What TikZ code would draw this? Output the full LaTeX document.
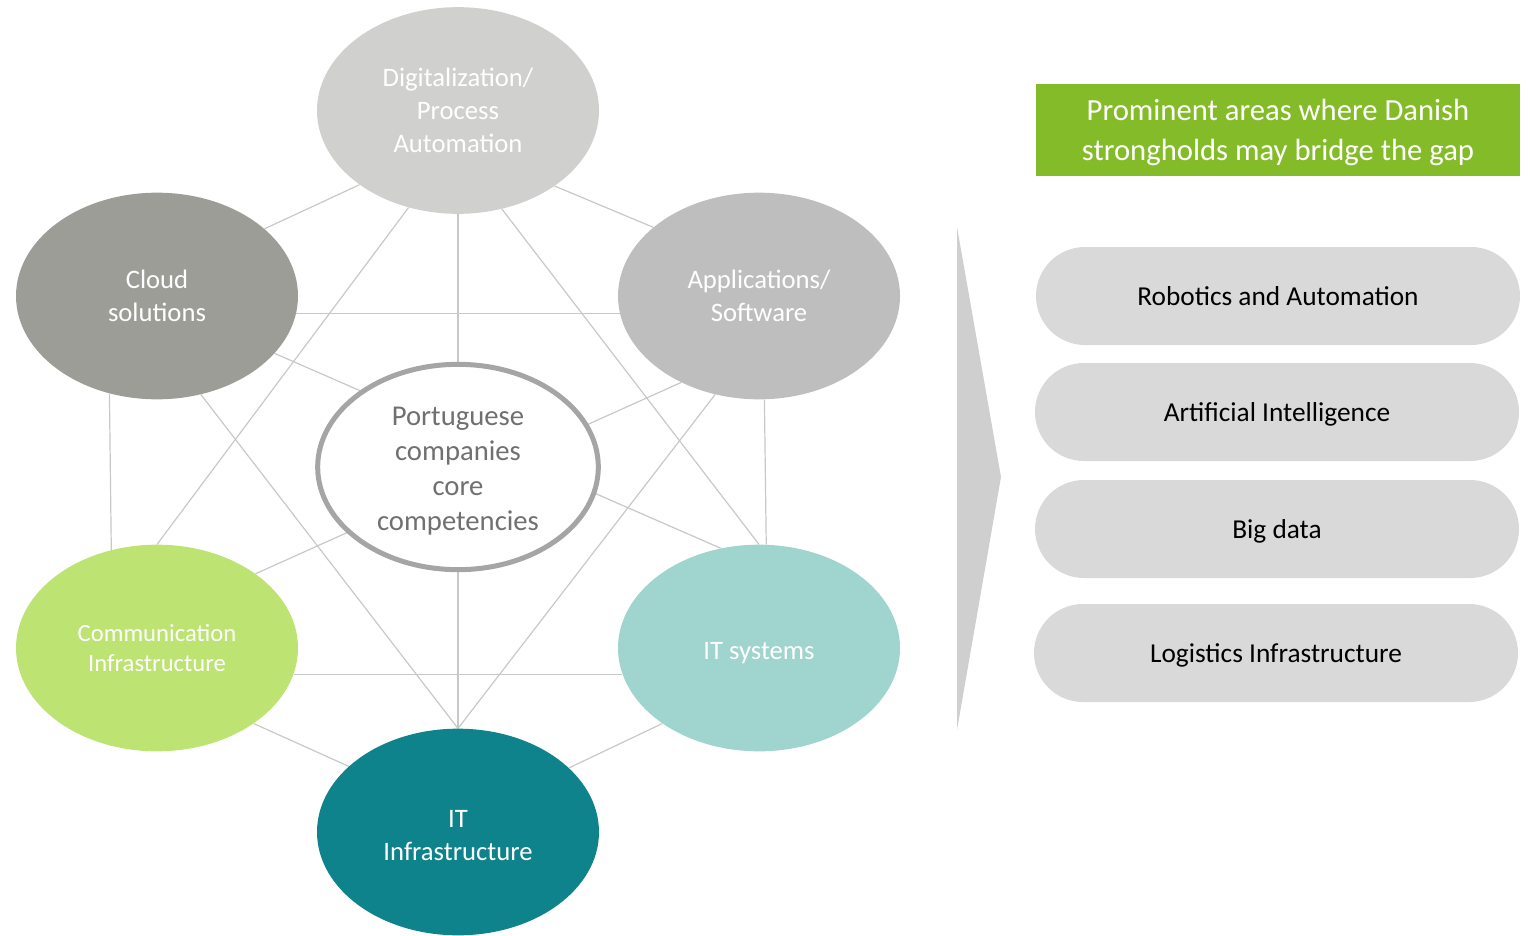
\documentclass[tikz,border=0pt]{standalone}
\usepackage{fontspec}
\setmainfont{Carlito}
\usetikzlibrary{positioning,shapes.geometric,backgrounds}

\definecolor{digitgray}{RGB}{208,208,206}
\definecolor{cloudgray}{RGB}{157,157,152}
\definecolor{appsgray}{RGB}{190,190,190}
\definecolor{commgreen}{RGB}{189,227,115}
\definecolor{itsysteal}{RGB}{159,212,207}
\definecolor{infrateal}{RGB}{14,131,140}
\definecolor{corering}{RGB}{165,165,165}
\definecolor{coretext}{RGB}{112,112,112}
\definecolor{linkgray}{RGB}{200,200,200}
\definecolor{chevgray}{RGB}{207,207,207}
\definecolor{headgreen}{RGB}{132,188,41}
\definecolor{pillgray}{RGB}{217,217,217}

\begin{document}
\begin{tikzpicture}[
  x=0.75pt, y=-0.75pt,
  area/.style={ellipse, inner sep=0pt, minimum width=211.5pt, minimum height=155pt,
    align=center, text=white, font=\fontsize{20}{24.8}\selectfont},
  core/.style={ellipse, inner sep=0pt, minimum width=210.5pt, minimum height=154pt,
    draw=corering, line width=3.75pt, fill=white, align=center, text=coretext,
    text height=95.4pt, text depth=0pt, font=\fontsize{21.5}{26.2}\selectfont},
  link/.style={draw=linkgray, line width=0.9pt},
  pill/.style={rectangle, rounded corners=36.7pt, fill=pillgray, minimum width=363pt,
    minimum height=73.5pt, text depth=0pt, font=\fontsize{20.5}{24}\selectfont},
  header/.style={rectangle, fill=headgreen, minimum width=363pt, minimum height=69pt,
    align=center, text=white, text depth=0pt, font=\fontsize{23}{30}\selectfont}
]
\useasboundingbox (0,0) rectangle (1530,935);

% Outer areas
\node[area, fill=digitgray] (digit) at (458,110.5) {Digitalization/\\Process\\Automation};
\node[area, fill=cloudgray] (cloud) at (157,296) {Cloud\\solutions};
\node[area, fill=appsgray] (apps) at (759,296) {Applications/\\Software};
\node[area, fill=commgreen, font=\fontsize{18.5}{22.5}\selectfont] (comm) at (157,648)
  {Communication\\Infrastructure};
\node[area, fill=itsysteal, text height=17.5pt, text depth=0pt] (itsys) at (759,648) {IT systems};
\node[area, fill=infrateal, text height=42.3pt, text depth=0pt] (itinfra) at (458,832)
  {IT\\Infrastructure};

% Core competencies
\node[core] (core) at (458,467) {Portuguese\\companies\\core\\competencies};

% Links behind the ellipses
\begin{scope}[on background layer]
\draw[link] (digit.217.4) -- (cloud.32.2);
\draw[link] (digit.322.6) -- (apps.147.8);
\draw[link] (digit.south) -- (itinfra.north);
\draw[link] (digit.243.9) -- (comm.north);
\draw[link] (digit.294.7) -- (itsys.north);
\draw[link] (cloud.-7.8) -- (apps.187.8);
\draw[link] (cloud.-26.6) -- (itsys.111.1);
\draw[link] (cloud.244.3) -- (comm.115.7);
\draw[link] (cloud.294.9) -- (itinfra.north);
\draw[link] (apps.228.5) -- (comm.37.8);
\draw[link] (apps.273.3) -- (itsys.86.7);
\draw[link] (apps.246.1) -- (itinfra.north);
\draw[link] (comm.-11.7) -- (itsys.191.7);
\draw[link] (comm.-38) -- (itinfra.149.4);
\draw[link] (itsys.218) -- (itinfra.30.6);
\end{scope}

% Chevron
\fill[chevgray] (957,227) -- (1001,477) -- (957,730) -- cycle;

% Danish strongholds
\node[header] (head) at (1278,130) {Prominent areas where Danish\\strongholds may bridge the gap};
\node[pill] (robot) at (1278,296) {Robotics and Automation};
\node[pill] (ai) at (1277,412) {Artificial Intelligence};
\node[pill] (bigdata) at (1277,529) {Big data};
\node[pill] (logist) at (1276,653) {Logistics Infrastructure};

\end{tikzpicture}
\end{document}
